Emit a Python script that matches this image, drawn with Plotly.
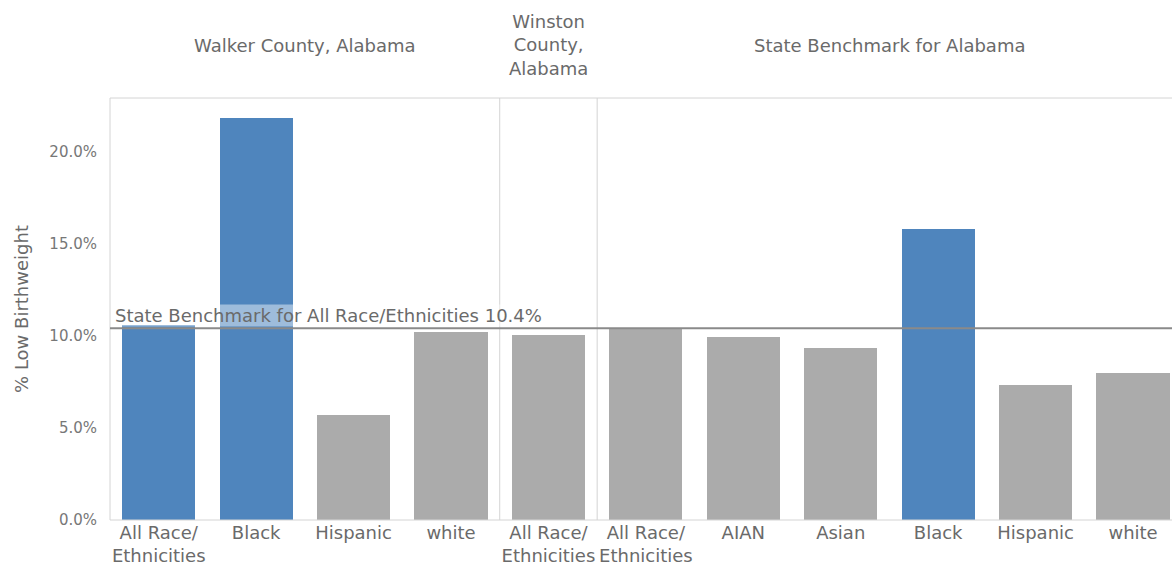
import plotly.graph_objects as go

groups = ["Walker County, Alabama"] * 4 + ["Winston County, Alabama"] + ["State Benchmark for Alabama"] * 6
categories = ["All Race/<br>Ethnicities", "Black", "Hispanic", "white",
              "All Race/<br>Ethnicities",
              "All Race/<br>Ethnicities", "AIAN", "Asian", "Black", "Hispanic", "white"]
values = [10.6, 21.8, 5.7, 10.2, 10.05, 10.4, 9.95, 9.35, 15.8, 7.3, 8.0]
highlight = [True, True, False, False, False, False, False, False, True, False, False]
benchmark = 10.4
benchmark_label = "State Benchmark for All Race/Ethnicities 10.4%"
y_ticks = [0, 5, 10, 15, 20]

BLUE = "#4f85bd"
GRAY = "#ababab"
FONT = "DejaVu Sans"
TXT = "#6a6a6a"

xs = list(range(len(categories)))
colors = [BLUE if h else GRAY for h in highlight]

fig = go.Figure()
fig.add_trace(go.Bar(
    x=xs, y=values, width=0.75,
    marker=dict(color=colors, line=dict(width=0)),
    hovertemplate="%{y:.1f}%<extra></extra>",
))

# panel separators
bounds = []
for i in range(1, len(groups)):
    if groups[i] != groups[i - 1]:
        bounds.append(i - 0.5)
for b in bounds:
    fig.add_shape(type="line", xref="x", yref="paper", x0=b, x1=b, y0=0, y1=1,
                  line=dict(color="#d4d4d4", width=1))

# frame lines
for (x0, x1, y0, y1) in [(0, 1, 1, 1), (0, 1, 0, 0), (0, 0, 0, 1)]:
    fig.add_shape(type="line", xref="paper", yref="paper", x0=x0, x1=x1, y0=y0, y1=y1,
                  line=dict(color="#d4d4d4", width=1))

# benchmark line
fig.add_shape(type="line", xref="paper", yref="y", x0=0, x1=1, y0=benchmark, y1=benchmark,
              line=dict(color="#8a8a8a", width=2))
fig.add_annotation(xref="paper", yref="y", x=0.004, y=benchmark, xanchor="left", yanchor="bottom",
                   text=benchmark_label, showarrow=False, yshift=1,
                   font=dict(family=FONT, size=18, color=TXT),
                   bgcolor="rgba(255,255,255,0.45)", borderpad=0)

# group headers
seen = []
for g in groups:
    if g not in seen:
        seen.append(g)
for g in seen:
    idx = [i for i, gg in enumerate(groups) if gg == g]
    cx = (idx[0] + idx[-1]) / 2
    text = g
    if len(idx) == 1:
        text = "Winston<br>County,<br>Alabama"
    fig.add_annotation(xref="x", yref="paper", x=cx, y=1, yanchor="middle",
                       yshift=53, text=text, showarrow=False,
                       font=dict(family=FONT, size=18, color=TXT))

fig.update_layout(
    width=1172, height=567,
    margin=dict(l=110, r=0, t=98, b=47),
    paper_bgcolor="white", plot_bgcolor="white",
    showlegend=False, bargap=0,
    font=dict(family=FONT, color=TXT),
    xaxis=dict(range=[-0.5, 10.4], tickvals=xs, ticktext=categories,
               showgrid=False, zeroline=False, showline=False, ticks="",
               automargin=False, ticklabelstandoff=0,
               tickfont=dict(family=FONT, size=18, color=TXT), tickangle=0),
    yaxis=dict(range=[0, 22.9], tickvals=y_ticks,
               ticktext=[f"{v:.1f}%" for v in y_ticks],
               showgrid=False, zeroline=False, showline=False, ticks="",
               automargin=False,
               tickfont=dict(family=FONT, size=15, color="#777777"),
               ticklabelstandoff=12,
               title=dict(text="% Low Birthweight", standoff=16,
                          font=dict(family=FONT, size=18, color=TXT))),
)

fig.write_html("out.html", config={"displayModeBar": False},
               post_script="document.body.style.margin='0';")
